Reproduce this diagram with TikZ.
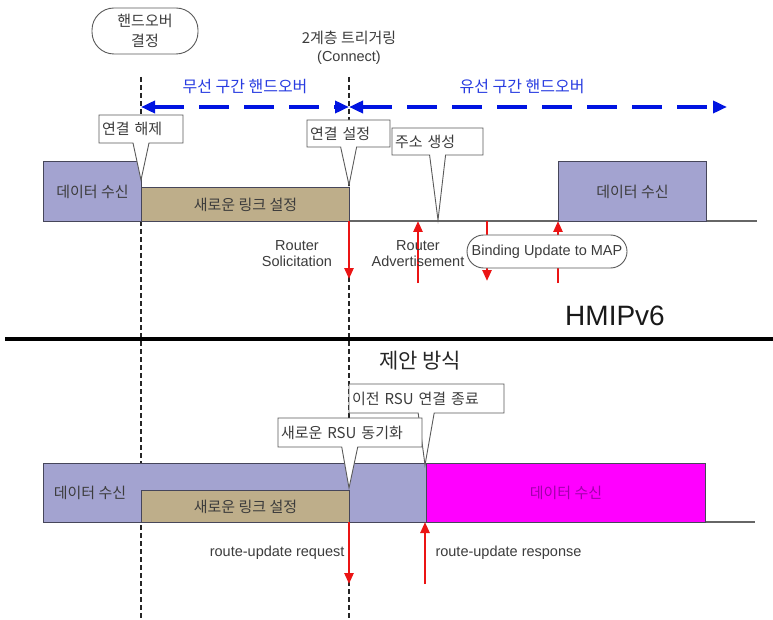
\documentclass[tikz,border=0pt]{standalone}
\usepackage{fontspec}
\setmainfont{Liberation Sans}
\newfontfamily\kr{Noto Sans CJK KR}
\usetikzlibrary{shapes.callouts,shapes.misc,arrows.meta}
\definecolor{dpurple}{RGB}{163,163,208}
\definecolor{dtan}{RGB}{190,174,138}
\definecolor{dmag}{RGB}{255,0,255}
\definecolor{magtxt}{RGB}{160,0,170}
\definecolor{boxline}{RGB}{70,70,90}
\definecolor{callline}{RGB}{90,90,90}
\definecolor{txtgray}{RGB}{60,60,60}
\definecolor{arrblue}{RGB}{0,20,225}
\definecolor{blutxt}{RGB}{40,60,225}
\definecolor{arrred}{RGB}{235,20,20}
\begin{document}
\begin{tikzpicture}[x=1pt,y=-1pt,
  krtext/.style={font=\kr\fontsize{15}{20}\selectfont, text=txtgray},
  lattext/.style={font=\fontsize{14.5}{16}\selectfont, text=txtgray},
  blutext/.style={font=\kr\fontsize{16}{18}\selectfont, text=blutxt},
  databox/.style={draw=boxline, line width=1.1pt, fill=dpurple, inner sep=0pt, anchor=north west, krtext},
  linkbox/.style={draw=boxline, line width=1.1pt, fill=dtan, inner sep=0pt, anchor=north west, krtext},
  magbox/.style={draw=boxline, line width=1.1pt, fill=dmag, inner sep=0pt, anchor=north west, font=\kr\fontsize{15}{20}\selectfont, text=magtxt},
  callbox/.style={rectangle callout, draw=callline, fill=white, line width=0.9pt, inner xsep=3pt, inner ysep=0pt, align=left, callout pointer width=16pt, krtext},
  pillbox/.style={draw=callline, fill=white, line width=0.9pt},
  vdash/.style={draw=black!85, line width=1.5pt, dash pattern=on 5pt off 3pt},
  baseln/.style={draw=black!60, line width=1.2pt},
  bluearr/.style={draw=arrblue, line width=3.5pt, dash pattern=on 30pt off 15pt, {Triangle[length=14pt,width=12pt]}-{Triangle[length=14pt,width=12pt]}},
  redarr/.style={draw=arrred, line width=2.5pt, -{Triangle[length=11pt,width=9pt]}},
]
\useasboundingbox (0,0) rectangle (773,620);
\fill[white] (0,0) rectangle (773,620);

% vertical dashed guides
\coordinate (v1t) at (141,77); \coordinate (v1b) at (141,620);
\coordinate (v2t) at (349,77); \coordinate (v2b) at (349,620);
\draw[vdash] (v1t) -- (v1b);
\draw[vdash] (v2t) -- (v2b);

% top label
\node[pillbox, rounded corners=22pt, minimum width=106pt, minimum height=46pt, align=center, krtext] (hd) at (145,31) {핸드오버\\결정};
\node[align=center, text=txtgray, font=\fontsize{14.5}{18}\selectfont] (trig) at (349,48) {{\kr\fontsize{15}{18}\selectfont 2계층 트리거링}\\(Connect)};

% blue handover arrows
\node[blutext] (wl) at (245,87) {무선 구간 핸드오버};
\node[blutext] (wd) at (522,87) {유선 구간 핸드오버};
\coordinate (bl) at (141,107); \coordinate (bm) at (349,107); \coordinate (br) at (727,107);
\draw[bluearr] (bl) -- (bm);
\draw[bluearr] (bm) -- (br);

% top timeline
\coordinate (b1l) at (43,221); \coordinate (b1r) at (757,221);
\draw[baseln] (b1l) -- (b1r);
\node[databox, minimum width=98pt, minimum height=60pt] (d1) at (43,161) {데이터 수신};
\node[linkbox, minimum width=208pt, minimum height=34pt] (l1) at (141,187) {새로운 링크 설정};
\node[databox, minimum width=148pt, minimum height=60pt] (d2) at (558,161) {데이터 수신};

% top callouts
\node[callbox, text width=78pt, minimum height=28pt, callout absolute pointer={(141,180)}] (c1) at (141,129) {연결 해제};
\node[callbox, text width=77pt, minimum height=27pt, callout absolute pointer={(349,185)}] (c2) at (348.5,133.5) {연결 설정};
\node[callbox, text width=85pt, minimum height=27pt, callout absolute pointer={(438,220)}] (c3) at (437.5,141.5) {주소 생성};

% top red arrows
\coordinate (rs0) at (349,221); \coordinate (rs1) at (349,279);
\coordinate (ra0) at (418,283); \coordinate (ra1) at (418,221);
\coordinate (rb0) at (487,221); \coordinate (rb1) at (487,281);
\coordinate (rc0) at (558,283); \coordinate (rc1) at (558,221);
\draw[redarr] (rs0) -- (rs1);
\draw[redarr] (ra0) -- (ra1);
\draw[redarr] (rb0) -- (rb1);
\draw[redarr] (rc0) -- (rc1);
\node[lattext, align=center] (rsl) at (297,254) {Router\\Solicitation};
\node[lattext, align=center] (ral) at (418,254) {Router\\Advertisement};
\node[pillbox, rounded rectangle, minimum width=164pt, minimum height=33pt, inner sep=2pt, lattext] (bu) at (547,251.5) {Binding Update to MAP};

% section separator
\node[font=\fontsize{28}{30}\selectfont, text=black!90] (hm) at (615,316) {HMIPv6};
\coordinate (sl) at (5,339); \coordinate (sr) at (773,339);
\draw[black, line width=3.5pt] (sl) -- (sr);
\node[font=\kr\fontsize{21}{24}\selectfont, text=black!85] (jn) at (420,361) {제안 방식};

% bottom timeline
\coordinate (b2l) at (43,522); \coordinate (b2r) at (755,522);
\draw[baseln] (b2l) -- (b2r);
\node[databox, minimum width=383pt, minimum height=59pt] (d3) at (43,463) {};
\node[krtext] (d3t) at (90,493) {데이터 수신};
\node[linkbox, minimum width=208pt, minimum height=32pt] (l2) at (141,490) {새로운 링크 설정};
\node[magbox, minimum width=279pt, minimum height=59pt] (d4) at (426,463) {데이터 수신};

% bottom callouts
\node[callbox, text width=149pt, minimum height=29pt, callout absolute pointer={(425,465)}] (c4) at (426.5,398.5) {이전 RSU 연결 종료};
\node[callbox, text width=138pt, minimum height=29pt, callout absolute pointer={(349,488)}] (c5) at (350,432.5) {새로운 RSU 동기화};

% bottom red arrows
\coordinate (qa0) at (349,522); \coordinate (qa1) at (349,584);
\coordinate (qb0) at (425,584); \coordinate (qb1) at (425,522);
\draw[redarr] (qa0) -- (qa1);
\draw[redarr] (qb0) -- (qb1);
\node[lattext, anchor=east] (rq) at (348,553) {route-update request};
\node[lattext, anchor=west] (rp) at (432,553) {route-update response};
\end{tikzpicture}
\end{document}
